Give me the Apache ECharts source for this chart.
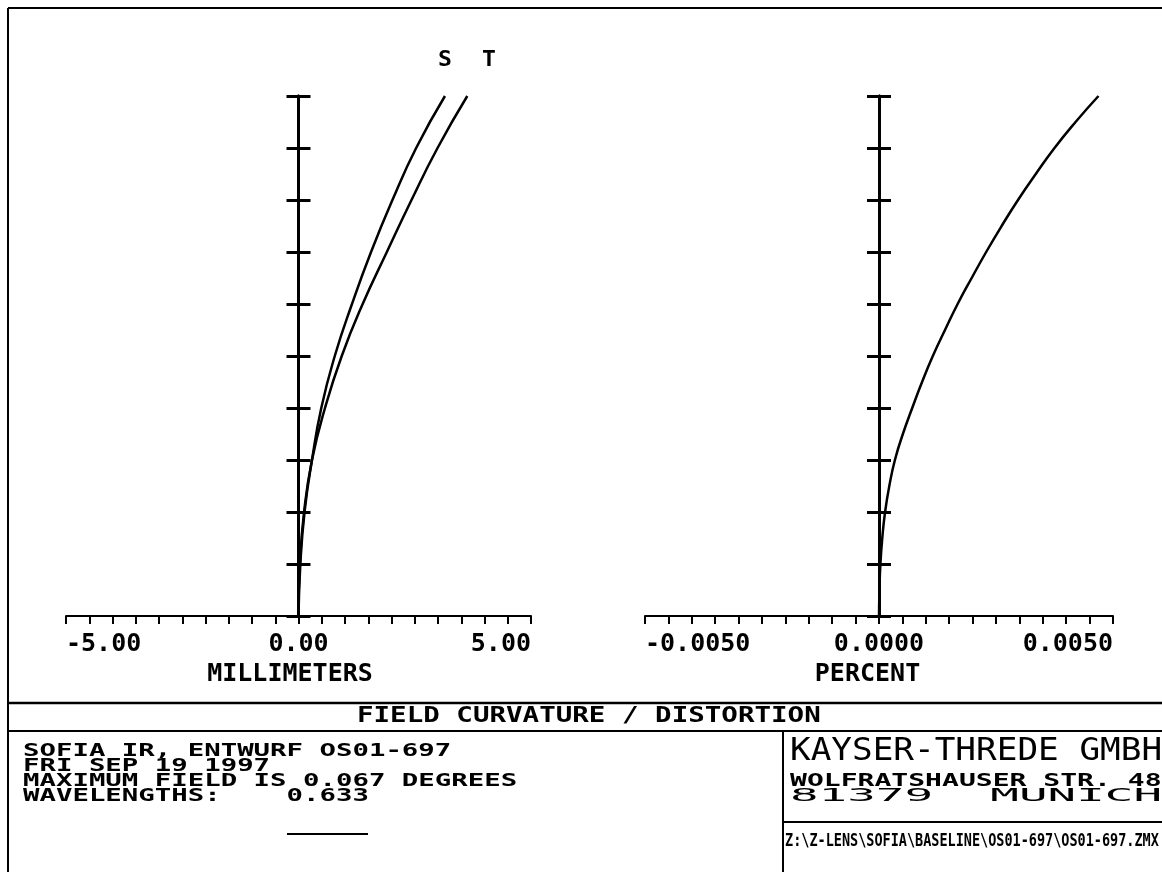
<!DOCTYPE html>
<html>
<head>
<meta charset="utf-8">
<script src="https://cdn.jsdelivr.net/npm/echarts@6/dist/echarts.min.js"></script>
<style>html,body{margin:0;padding:0;background:#fff}#c{width:1162px;height:872px}</style>
</head>
<body>
<div id="c"></div>
<script>
// ---- data ----
const fieldLevels = [0, 0.1, 0.2, 0.3, 0.4, 0.5, 0.6, 0.7, 0.8, 0.9, 1.0];
const sagittalMM = [0, 0.04, 0.13, 0.29, 0.49, 0.78, 1.15, 1.56, 2.02, 2.53, 3.15];
const tangentialMM = [0, 0.03, 0.12, 0.29, 0.57, 0.93, 1.38, 1.90, 2.43, 2.99, 3.63];
const distFieldLevels = [0, 0.05, 0.1, 0.15, 0.2, 0.25, 0.3, 0.35, 0.4, 0.45, 0.5, 0.55, 0.6, 0.65, 0.7, 0.75, 0.8, 0.85, 0.9, 0.95, 1.0];
const distortionPct = [0, 0.00001, 0.00003, 0.00007, 0.00013, 0.00022, 0.00034, 0.00051, 0.00071, 0.00092, 0.00115, 0.00141, 0.00168, 0.00198, 0.00229, 0.00262, 0.00297, 0.00335, 0.00375, 0.00420, 0.00469];
const mmTicks = [-5, 0, 5];
const mmTickLabels = ['-5.00', '0.00', '5.00'];
const pctTicks = [-0.005, 0, 0.005];
const pctTickLabels = ['-0.0050', '0.0000', '0.0050'];
const seriesNames = ['S', 'T'];

const MONO = '"DejaVu Sans Mono", monospace';

function tickFormatter(ticks, labels, tol) {
  return function (v) {
    for (let i = 0; i < ticks.length; i++) {
      if (Math.abs(v - ticks[i]) < tol) return labels[i];
    }
    return '';
  };
}

function xAxisDef(gi, min, max, interval, ticks, labels, tol, name, namePad) {
  return {
    gridIndex: gi, type: 'value', min: min, max: max, interval: interval,
    axisLine: { onZero: false, lineStyle: { color: '#000', width: 2 } },
    axisTick: { show: true, inside: false, length: 8, lineStyle: { color: '#000', width: 2 } },
    splitLine: { show: false },
    axisLabel: {
      formatter: tickFormatter(ticks, labels, tol),
      color: '#000', fontFamily: MONO, fontWeight: 'bold', fontSize: 25, margin: 16,
      alignMinLabel: 'left', alignMaxLabel: 'right', showMinLabel: true, showMaxLabel: true
    },
    name: name, nameLocation: 'middle', nameGap: 38,
    nameTextStyle: { color: '#000', fontFamily: MONO, fontWeight: 'bold', fontSize: 25, padding: [0, namePad, 0, 0] }
  };
}

function yAxisDef(gi, xIdx, inside) {
  return {
    gridIndex: gi, type: 'value', min: 0, max: 1, interval: 0.1, position: 'left',
    axisLine: { onZero: true, onZeroAxisIndex: xIdx, lineStyle: { color: '#000', width: 3 } },
    axisTick: { show: true, inside: inside, length: 12, lineStyle: { color: '#000', width: 3 } },
    axisLabel: { show: false },
    splitLine: { show: false }
  };
}

function pairs(xs, ys) { return ys.map((y, i) => [xs[i], y]); }

function txt(x, y, s, size, weight, sx, align) {
  return {
    type: 'text', x: x, y: y, scaleX: sx, z: 100,
    style: { text: s, fill: '#000', font: weight + ' ' + size + 'px ' + MONO, align: align || 'left', verticalAlign: 'middle' }
  };
}
function ln(x1, y1, x2, y2, w) {
  return { type: 'line', z: 100, shape: { x1: x1, y1: y1, x2: x2, y2: y2 }, style: { stroke: '#000', lineWidth: w || 2 } };
}

const lineStyle = { color: '#000', width: 2.5 };

const option = {
  animation: false,
  backgroundColor: '#fff',
  grid: [
    { left: 66, top: 96, width: 465, height: 520, containLabel: false, outerBoundsMode: 'none' },
    { left: 645, top: 96, width: 468, height: 520, containLabel: false, outerBoundsMode: 'none' }
  ],
  xAxis: [
    xAxisDef(0, -5, 5, 0.5, mmTicks, mmTickLabels, 1e-6, 'MILLIMETERS', 17),
    xAxisDef(1, -0.005, 0.005, 0.0005, pctTicks, pctTickLabels, 1e-9, 'PERCENT', 23)
  ],
  yAxis: [
    yAxisDef(0, 0, false), yAxisDef(0, 0, true),
    yAxisDef(1, 1, false), yAxisDef(1, 1, true)
  ],
  series: [
    { name: seriesNames[0], type: 'line', xAxisIndex: 0, yAxisIndex: 0, data: pairs(sagittalMM, fieldLevels),
      showSymbol: false, smooth: 0.5, lineStyle: lineStyle, z: 5 },
    { name: seriesNames[1], type: 'line', xAxisIndex: 0, yAxisIndex: 0, data: pairs(tangentialMM, fieldLevels),
      showSymbol: false, smooth: 0.5, lineStyle: lineStyle, z: 5 },
    { name: 'Distortion', type: 'line', xAxisIndex: 1, yAxisIndex: 2, data: pairs(distortionPct, distFieldLevels),
      showSymbol: false, smooth: 0.5, lineStyle: lineStyle, z: 5 }
  ],
  graphic: [
    // frame
    ln(8, 8, 1162, 8, 2), ln(8, 8, 8, 872, 2),
    ln(8, 703, 1162, 703, 2.5), ln(8, 731, 1162, 731, 2),
    ln(783, 731, 783, 872, 2), ln(783, 822, 1162, 822, 2),
    // S / T labels
    txt(445, 61, seriesNames[0], 21, 'bold', 1.1, 'center'),
    txt(489, 61, seriesNames[1], 21, 'bold', 1.1, 'center'),
    // title row
    txt(357, 717, 'FIELD CURVATURE / DISTORTION', 21, 'bold', 1.31),
    // left block
    txt(23, 751, 'SOFIA IR, ENTWURF OS01-697', 18, 'bold', 1.52),
    txt(23, 766, 'FRI SEP 19 1997', 18, 'bold', 1.52),
    txt(23, 781, 'MAXIMUM FIELD IS 0.067 DEGREES', 18, 'bold', 1.52),
    txt(23, 796, 'WAVELENGTHS:    0.633', 18, 'bold', 1.52),
    ln(287, 834, 368, 834, 2),
    // right block
    txt(790, 752, 'KAYSER-THREDE GMBH', 31.5, 'normal', 1.09),
    txt(790, 781.5, 'WOLFRATSHAUSER STR. 48', 17, 'bold', 1.65),
    txt(790, 796.5, '81379  MUNICH', 18.5, 'normal', 2.57),
    txt(785, 841.5, 'Z:\\Z-LENS\\SOFIA\\BASELINE\\OS01-697\\OS01-697.ZMX', 18, 'bold', 0.75)
  ]
};

const chart = echarts.init(document.getElementById('c'), null, { renderer: 'canvas' });
chart.setOption(option);
</script>
</body>
</html>
